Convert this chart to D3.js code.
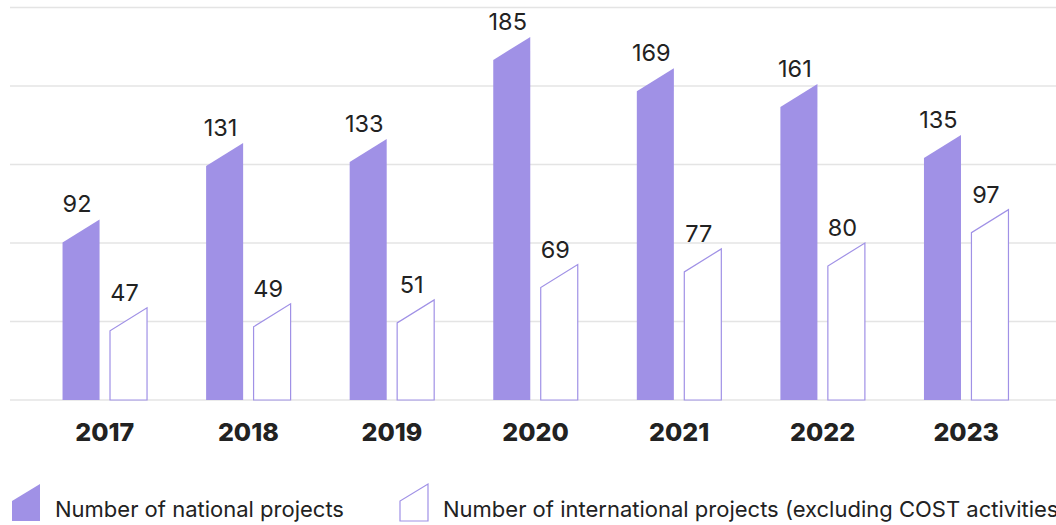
<!DOCTYPE html>
<html>
<head>
<meta charset="utf-8">
<script src="https://cdn.jsdelivr.net/npm/d3@7"></script>
<style>
  body { margin: 0; background: #fff; }
  svg { display: block; font-family: Inter, "Noto Sans", sans-serif; }
</style>
</head>
<body>
<div id="chart"></div>
<script>
const years = ['2017', '2018', '2019', '2020', '2021', '2022', '2023'];
const national = [92, 131, 133, 185, 169, 161, 135];
const international = [47, 49, 51, 69, 77, 80, 97];
const seriesNames = ['Number of national projects', 'Number of international projects (excluding COST activities)'];
const yTicks = [0, 40, 80, 120, 160, 200];

const width = 1056;
const height = 525;
const purple = '#a091e6';
const slant = 23; // left edge of each bar sits lower than the right one

const svg = d3.select('#chart')
  .append('svg')
  .attr('width', width)
  .attr('height', height);

const xScale = d3.scaleBand()
  .domain(years)
  .range([33, 1038])
  .padding(0);

const inner = d3.scaleBand()
  .domain(['national', 'international'])
  .range([-42.25, 42.25])
  .paddingInner(0.22);

const yScale = d3.scaleLinear()
  .domain([0, 200])
  .range([400, 7.5]);

// grid lines
svg.append('g')
  .selectAll('line')
  .data(yTicks)
  .enter()
  .append('line')
  .attr('x1', 10)
  .attr('x2', width)
  .attr('y1', d => yScale(d))
  .attr('y2', d => yScale(d))
  .attr('stroke', '#e4e4e4')
  .attr('stroke-width', 1.5);

const rows = years.map((y, i) => [
  { year: y, key: 'national', value: national[i] },
  { year: y, key: 'international', value: international[i] }
]).flat();

function barPath(d) {
  const x0 = xScale(d.year) + xScale.bandwidth() / 2 + inner(d.key);
  const x1 = x0 + inner.bandwidth();
  const yTop = yScale(d.value);
  const y0 = yScale(0);
  return `M${x0},${y0}L${x0},${yTop + slant}L${x1},${yTop}L${x1},${y0}Z`;
}

svg.append('g')
  .selectAll('path')
  .data(rows)
  .enter()
  .append('path')
  .attr('d', barPath)
  .attr('fill', d => d.key === 'national' ? purple : '#fff')
  .attr('stroke', d => d.key === 'national' ? 'none' : purple)
  .attr('stroke-width', 1.2);

// value labels
svg.append('g')
  .selectAll('text')
  .data(rows)
  .enter()
  .append('text')
  .attr('x', d => xScale(d.year) + xScale.bandwidth() / 2 + inner(d.key) + inner.bandwidth() / 2 - 4)
  .attr('y', d => yScale(d.value) - 7)
  .attr('text-anchor', 'middle')
  .attr('font-size', '23.5px')
  .attr('fill', '#222')
  .text(d => d.value);

// year labels
svg.append('g')
  .selectAll('text')
  .data(years)
  .enter()
  .append('text')
  .attr('x', d => xScale(d) + xScale.bandwidth() / 2)
  .attr('y', 441)
  .attr('text-anchor', 'middle')
  .attr('font-size', '25px')
  .attr('font-weight', 800)
  .attr('fill', '#222')
  .text(d => d);

// legend
const legend = svg.append('g');
const legendItems = [
  { name: seriesNames[0], x: 12, textX: 55, fill: purple, stroke: 'none' },
  { name: seriesNames[1], x: 400, textX: 443, fill: '#fff', stroke: purple }
];
legendItems.forEach(item => {
  legend.append('path')
    .attr('d', `M${item.x},521L${item.x},501L${item.x + 28},484L${item.x + 28},521Z`)
    .attr('fill', item.fill)
    .attr('stroke', item.stroke)
    .attr('stroke-width', 1.2);
  legend.append('text')
    .attr('x', item.textX)
    .attr('y', 517)
    .attr('font-size', '22px')
    .attr('fill', '#222')
    .text(item.name);
});
</script>
</body>
</html>
